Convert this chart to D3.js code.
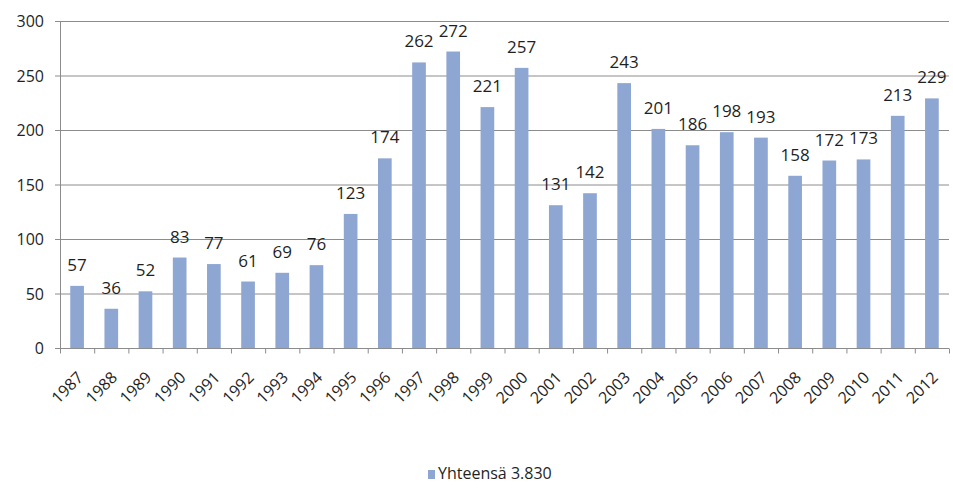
<!DOCTYPE html>
<html lang="fi">
<head>
  <meta charset="UTF-8">
  <title>Yhteensä 3.830</title>
  <style>
    html, body { margin: 0; padding: 0; background: #fff; }
    text { font-family: "Open Sans", "Liberation Sans", "DejaVu Sans", sans-serif; fill: #1f1f1f; }
    .grid line { stroke: #8c8c8c; stroke-width: 1; }
  </style>
</head>
<body>
  <svg class="chart"></svg>
  <script src="https://cdnjs.cloudflare.com/ajax/libs/d3/7.8.5/d3.min.js"></script>
  <script>
    // vuodet ja arvot
    const years = ["1987", "1988", "1989", "1990", "1991", "1992", "1993", "1994", "1995", "1996",
      "1997", "1998", "1999", "2000", "2001", "2002", "2003", "2004", "2005", "2006",
      "2007", "2008", "2009", "2010", "2011", "2012"];
    const values = [57, 36, 52, 83, 77, 61, 69, 76, 123, 174,
      262, 272, 221, 257, 131, 142, 243, 201, 186, 198,
      193, 158, 172, 173, 213, 229];
    const yTicks = [0, 50, 100, 150, 200, 250, 300];
    const legendLabel = "Yhteensä 3.830";

    const width = 953, height = 494;
    const plotLeft = 60, plotRight = 949, plotTop = 21, plotBottom = 348;
    const barColor = "#8ea6d2";

    const svg = d3.select("svg.chart").attr("width", width).attr("height", height);

    const x = d3.scaleBand().domain(years).range([plotLeft, plotRight]).paddingInner(0.6).paddingOuter(0.3);
    const y = d3.scaleLinear().domain([0, 300]).range([plotBottom, plotTop]);

    // vaakaviivat
    svg.append("g").attr("class", "grid")
      .selectAll("line")
      .data(yTicks)
      .join("line")
      .attr("x1", plotLeft - 5).attr("x2", plotRight)
      .attr("y1", d => y(d) + 0.5).attr("y2", d => y(d) + 0.5);

    // y-akselin tekstit
    svg.append("g")
      .selectAll("text")
      .data(yTicks)
      .join("text")
      .attr("x", plotLeft - 16)
      .attr("y", d => y(d) + 6)
      .attr("text-anchor", "end")
      .attr("font-size", 16)
      .text(d => d);

    // pystyakseli
    svg.append("line")
      .attr("x1", plotLeft + 0.5).attr("x2", plotLeft + 0.5)
      .attr("y1", plotTop).attr("y2", plotBottom)
      .attr("stroke", "#8c8c8c");

    // pylväät
    svg.append("g")
      .selectAll("rect")
      .data(values)
      .join("rect")
      .attr("x", (d, i) => x(years[i]))
      .attr("width", x.bandwidth())
      .attr("y", d => y(d))
      .attr("height", d => y(0) - y(d))
      .attr("fill", barColor);

    // arvot pylväiden päällä
    svg.append("g")
      .selectAll("text")
      .data(values)
      .join("text")
      .attr("x", (d, i) => x(years[i]) + x.bandwidth() / 2)
      .attr("y", d => y(d) - 15)
      .attr("text-anchor", "middle")
      .attr("font-size", 17)
      .text(d => d);

    // x-akseli
    const xAxis = svg.append("g").attr("transform", `translate(0,${plotBottom + 0.5})`);
    xAxis.append("line").attr("x1", plotLeft).attr("x2", plotRight).attr("stroke", "#8c8c8c");
    const step = x.step();
    xAxis.selectAll("line.tick")
      .data(d3.range(years.length + 1))
      .join("line")
      .attr("class", "tick")
      .attr("x1", i => plotLeft + i * step + 0.5).attr("x2", i => plotLeft + i * step + 0.5)
      .attr("y1", 0).attr("y2", 5)
      .attr("stroke", "#8c8c8c");

    xAxis.selectAll("text")
      .data(years)
      .join("text")
      .attr("transform", d => `translate(${x(d) + x.bandwidth() / 2 + 7},${30}) rotate(-45)`)
      .attr("text-anchor", "end")
      .attr("font-size", 16)
      .text(d => d);

    // selite
    const legend = svg.append("g").attr("transform", "translate(428,479)");
    legend.append("rect").attr("x", 0).attr("y", -9).attr("width", 7).attr("height", 9).attr("fill", barColor);
    legend.append("text").attr("x", 10).attr("y", 0).attr("font-size", 16).text(legendLabel);
  </script>
</body>
</html>
